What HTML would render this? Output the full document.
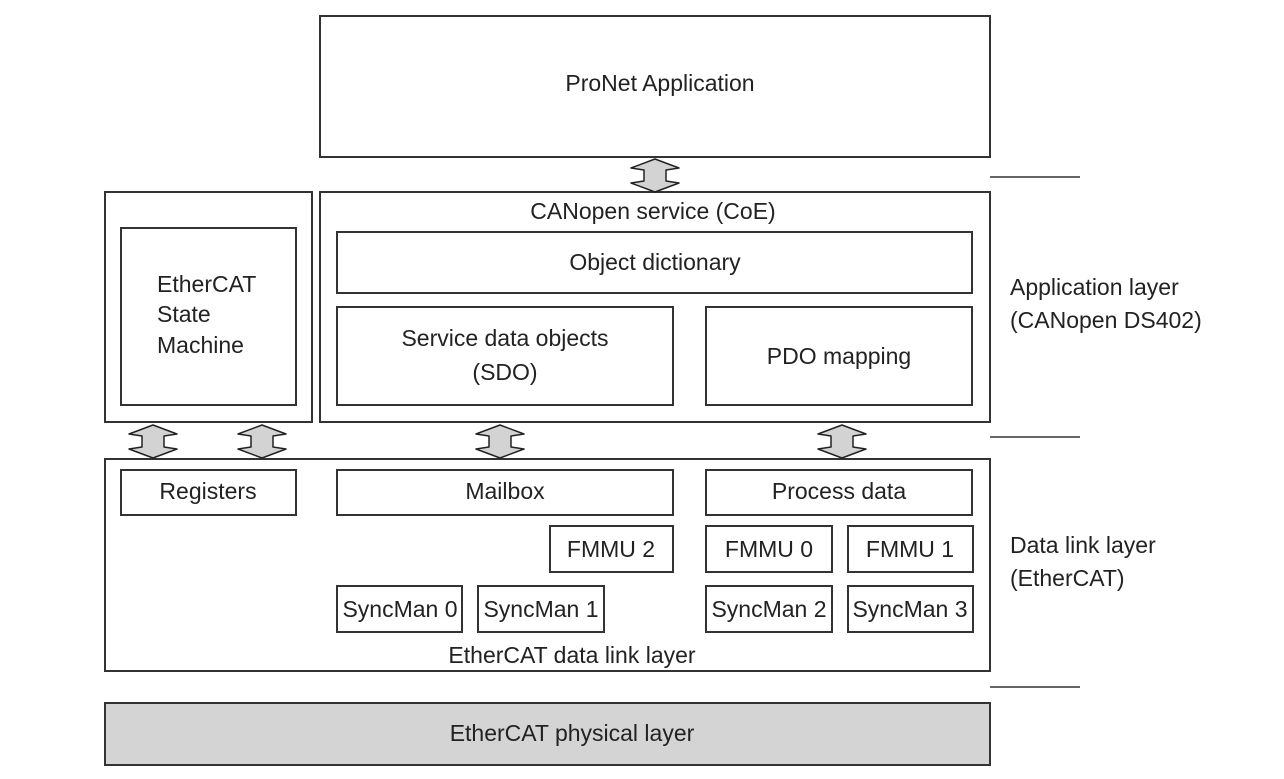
<!DOCTYPE html>
<html><head><meta charset="utf-8"><style>
html,body{margin:0;padding:0;background:#fff;}
svg text{font-family:"Liberation Sans",Arial,sans-serif;font-size:23px;fill:#222;}
</style></head><body>
<svg width="1284" height="774" viewBox="0 0 1284 774" xmlns="http://www.w3.org/2000/svg">
<defs>
<g id="arr">
<path d="M0,0 L-24,9 L-11,11 L-11,22 L-24,24 L0,33 L24,24 L11,22 L11,11 L24,9 Z" fill="#d3d3d3" stroke="#222" stroke-width="1.5" stroke-linejoin="round"/>
</g>
</defs>
<g fill="none" stroke="#333" stroke-width="2">
<rect x="320" y="16" width="670" height="141"/>
<rect x="105" y="192" width="207" height="230"/>
<rect x="121" y="228" width="175" height="177"/>
<rect x="320" y="192" width="670" height="230"/>
<rect x="337" y="232" width="635" height="61"/>
<rect x="337" y="307" width="336" height="98"/>
<rect x="706" y="307" width="266" height="98"/>
<rect x="105" y="459" width="885" height="212"/>
<rect x="121" y="470" width="175" height="45"/>
<rect x="337" y="470" width="336" height="45"/>
<rect x="706" y="470" width="266" height="45"/>
<rect x="550" y="526" width="123" height="46"/>
<rect x="706" y="526" width="126" height="46"/>
<rect x="848" y="526" width="125" height="46"/>
<rect x="337" y="586" width="125" height="46"/>
<rect x="478" y="586" width="126" height="46"/>
<rect x="706" y="586" width="126" height="46"/>
<rect x="848" y="586" width="125" height="46"/>
<rect x="105" y="703" width="885" height="62" fill="#d4d4d4"/>
<line x1="990" y1="177" x2="1080" y2="177" stroke-width="1.6"/>
<line x1="990" y1="437" x2="1080" y2="437" stroke-width="1.6"/>
<line x1="990" y1="687" x2="1080" y2="687" stroke-width="1.6"/>
</g>
<use href="#arr" x="655" y="159"/>
<use href="#arr" x="153" y="425"/>
<use href="#arr" x="262" y="425"/>
<use href="#arr" x="500" y="425"/>
<use href="#arr" x="842" y="425"/>
<g text-anchor="middle">
<text x="660" y="91">ProNet Application</text>
<text x="653" y="219">CANopen service (CoE)</text>
<text x="655" y="270">Object dictionary</text>
<text x="505" y="346">Service data objects</text>
<text x="505" y="380">(SDO)</text>
<text x="839" y="364">PDO mapping</text>
<text x="208" y="499">Registers</text>
<text x="505" y="499">Mailbox</text>
<text x="839" y="499">Process data</text>
<text x="611" y="557">FMMU 2</text>
<text x="769" y="557">FMMU 0</text>
<text x="910" y="557">FMMU 1</text>
<text x="400" y="617">SyncMan 0</text>
<text x="541" y="617">SyncMan 1</text>
<text x="769" y="617">SyncMan 2</text>
<text x="910" y="617">SyncMan 3</text>
<text x="572" y="663">EtherCAT data link layer</text>
<text x="572" y="741">EtherCAT physical layer</text>
</g>
<text x="157" y="292">EtherCAT</text>
<text x="157" y="322">State</text>
<text x="157" y="353">Machine</text>
<text x="1010" y="295">Application layer</text>
<text x="1010" y="328">(CANopen DS402)</text>
<text x="1010" y="553">Data link layer</text>
<text x="1010" y="586">(EtherCAT)</text>
</svg>
</body></html>
